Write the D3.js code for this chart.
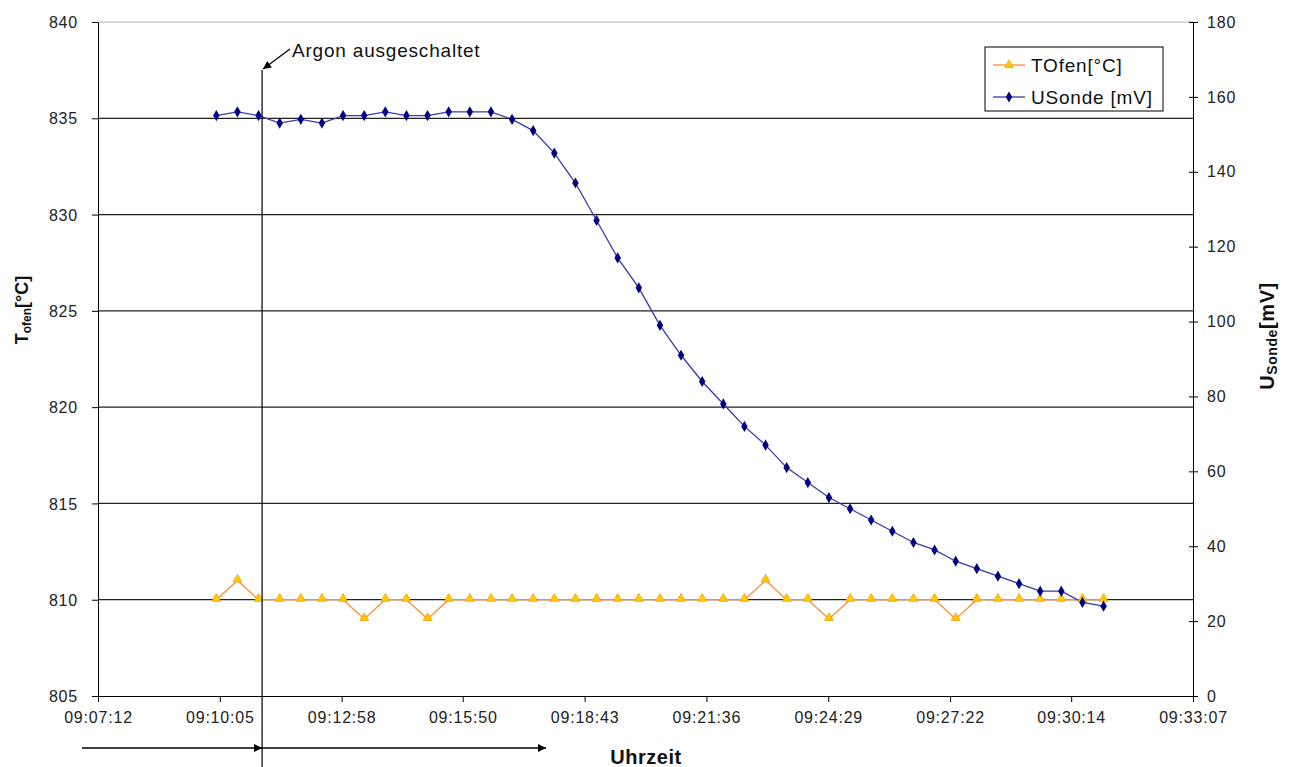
<!DOCTYPE html>
<html>
<head>
<meta charset="utf-8">
<script src="https://cdn.jsdelivr.net/npm/d3@7"></script>
<style>
  body { margin: 0; background: #fff; }
  svg { font-family: "Liberation Sans", Arial, sans-serif; }
</style>
</head>
<body>
<div id="chart"></div>
<script>
const width = 1289;
const height = 767;
const margin = {top: 22, right: 96, bottom: 71, left: 98};

// x-axis tick labels (Excel time axis)
const timeTicks = ['09:07:12', '09:10:05', '09:12:58', '09:15:50', '09:18:43',
  '09:21:36', '09:24:29', '09:27:22', '09:30:14', '09:33:07'];

// measurement times
const times = ['09:10:00', '09:10:30', '09:11:00', '09:11:30', '09:12:00', '09:12:30',
  '09:13:00', '09:13:30', '09:14:00', '09:14:30', '09:15:00', '09:15:30', '09:16:00',
  '09:16:30', '09:17:00', '09:17:30', '09:18:00', '09:18:30', '09:19:00', '09:19:30',
  '09:20:00', '09:20:30', '09:21:00', '09:21:30', '09:22:00', '09:22:30', '09:23:00',
  '09:23:30', '09:24:00', '09:24:30', '09:25:00', '09:25:30', '09:26:00', '09:26:30',
  '09:27:00', '09:27:30', '09:28:00', '09:28:30', '09:29:00', '09:29:30', '09:30:00',
  '09:30:30', '09:31:00'];

// TOfen [°C]
const tOfen = [810, 811, 810, 810, 810, 810, 810, 809, 810, 810, 809, 810, 810,
  810, 810, 810, 810, 810, 810, 810, 810, 810, 810, 810, 810, 810, 811,
  810, 810, 809, 810, 810, 810, 810, 810, 809, 810, 810, 810, 810, 810,
  810, 810];

// USonde [mV]
const uSonde = [155, 156, 155, 153, 154, 153, 155, 155, 156, 155, 155, 156, 156,
  156, 154, 151, 145, 137, 127, 117, 109, 99, 91, 84, 78, 72, 67,
  61, 57, 53, 50, 47, 44, 41, 39, 36, 34, 32, 30, 28, 28, 25, 24];

const leftTicks = [805, 810, 815, 820, 825, 830, 835, 840];
const rightTicks = [0, 20, 40, 60, 80, 100, 120, 140, 160, 180];
const argonTime = '09:11:05';

const toSec = s => {
  const p = s.split(':').map(Number);
  return p[0] * 3600 + p[1] * 60 + p[2];
};

const svg = d3.select('#chart').append('svg')
    .attr('width', width)
    .attr('height', height);

const defs = svg.append('defs');
defs.append('marker')
    .attr('id', 'arrow')
    .attr('viewBox', '0 0 10 10')
    .attr('refX', 10).attr('refY', 5)
    .attr('markerWidth', 10).attr('markerHeight', 8)
    .attr('markerUnits', 'userSpaceOnUse')
    .attr('orient', 'auto')
  .append('path')
    .attr('d', 'M0,0L10,5L0,10Z')
    .attr('fill', '#000');

const x0 = margin.left, x1 = width - margin.right;
const y0 = height - margin.bottom, y1 = margin.top;

const x = d3.scaleLinear()
    .domain([toSec(timeTicks[0]), toSec(timeTicks[timeTicks.length - 1])])
    .range([x0, x1]);
const yL = d3.scaleLinear().domain([805, 840]).range([y0, y1]);
const yR = d3.scaleLinear().domain([0, 180]).range([y0, y1]);

// top border
svg.append('line')
    .attr('x1', x0).attr('x2', x1).attr('y1', y1).attr('y2', y1)
    .attr('stroke', '#b0b0b0');

// gridlines
svg.append('g').selectAll('line')
  .data(leftTicks.filter(d => d > 805 && d < 840))
  .join('line')
    .attr('x1', x0).attr('x2', x1)
    .attr('y1', d => yL(d)).attr('y2', d => yL(d))
    .attr('stroke', '#222').attr('stroke-width', 1.2);

function styleAxis(g) {
  g.selectAll('.domain').attr('stroke', '#000');
  g.selectAll('.tick line').attr('stroke', '#000');
  g.selectAll('.tick text')
      .attr('fill', '#222')
      .style('font-size', '16px')
      .style('letter-spacing', '0.8px')
      .style('font-family', '"Liberation Sans", Arial, sans-serif');
}

const gL = svg.append('g')
    .attr('transform', `translate(${x0},0)`)
    .call(d3.axisLeft(yL).tickValues(leftTicks).tickSizeInner(6).tickSizeOuter(0).tickPadding(14));
styleAxis(gL);
gL.selectAll('.tick text').attr('dy', '0.35em');

const gR = svg.append('g')
    .attr('transform', `translate(${x1},0)`)
    .call(d3.axisRight(yR).tickValues(rightTicks).tickSizeInner(5).tickSizeOuter(0).tickPadding(9));
styleAxis(gR);
gR.selectAll('.tick line').attr('x1', -4);

const gX = svg.append('g')
    .attr('transform', `translate(0,${y0})`)
    .call(d3.axisBottom(x).tickValues(timeTicks.map(toSec))
      .tickFormat((d, i) => timeTicks[i]).tickSizeInner(6).tickSizeOuter(0).tickPadding(10));
styleAxis(gX);

// series
const ptsT = times.map((t, i) => [x(toSec(t)), yL(tOfen[i])]);
const ptsU = times.map((t, i) => [x(toSec(t)), yR(uSonde[i])]);

svg.append('path')
    .attr('d', d3.line()(ptsT))
    .attr('fill', 'none')
    .attr('stroke', '#ff8c3a')
    .attr('stroke-width', 1.3);
svg.append('path')
    .attr('d', d3.line()(ptsU))
    .attr('fill', 'none')
    .attr('stroke', '#3a3aa8')
    .attr('stroke-width', 1.3);

const tri = d3.symbol().type(d3.symbolTriangle).size(34);
const dia = d3.symbol().type(d3.symbolDiamond).size(36);

svg.append('g').selectAll('path')
  .data(ptsT)
  .join('path')
    .attr('d', tri)
    .attr('transform', d => `translate(${d[0]},${d[1] - 1})`)
    .attr('fill', '#ffcc00')
    .attr('stroke', '#ff9900')
    .attr('stroke-width', 0.8);
svg.append('g').selectAll('path')
  .data(ptsU)
  .join('path')
    .attr('d', dia)
    .attr('transform', d => `translate(${d[0]},${d[1]})`)
    .attr('fill', '#000080');

// Argon annotation
const ax = x(toSec(argonTime));
svg.append('line')
    .attr('x1', ax).attr('x2', ax).attr('y1', 70).attr('y2', height)
    .attr('stroke', '#000').attr('stroke-width', 1.2);
svg.append('line')
    .attr('x1', 290).attr('y1', 49).attr('x2', ax + 1).attr('y2', 69)
    .attr('stroke', '#000').attr('stroke-width', 1.2)
    .attr('marker-end', 'url(#arrow)');
svg.append('text')
    .attr('x', 292).attr('y', 57)
    .style('font-size', '19px')
    .style('letter-spacing', '0.8px')
    .attr('fill', '#111')
    .text('Argon ausgeschaltet');

// bottom arrows
svg.append('line')
    .attr('x1', 82).attr('x2', ax).attr('y1', 748).attr('y2', 748)
    .attr('stroke', '#000').attr('stroke-width', 1.5)
    .attr('marker-end', 'url(#arrow)');
svg.append('line')
    .attr('x1', ax).attr('x2', 546).attr('y1', 748).attr('y2', 748)
    .attr('stroke', '#000').attr('stroke-width', 1.5)
    .attr('marker-end', 'url(#arrow)');

// axis titles
svg.append('text')
    .attr('x', 646).attr('y', 764)
    .attr('text-anchor', 'middle')
    .style('font-size', '20px').style('font-weight', 'bold')
    .style('letter-spacing', '0.5px')
    .attr('fill', '#111')
    .text('Uhrzeit');

const tl = svg.append('text')
    .attr('transform', 'translate(28,310) rotate(-90)')
    .attr('text-anchor', 'middle')
    .style('font-size', '18px').style('font-weight', 'bold')
    .attr('fill', '#111');
tl.append('tspan').text('T');
tl.append('tspan').style('font-size', '12px').attr('dy', 3).text('ofen');
tl.append('tspan').attr('dy', -3).text('[°C]');

const tr = svg.append('text')
    .attr('transform', 'translate(1274,336) rotate(-90)')
    .attr('text-anchor', 'middle')
    .style('font-size', '20px').style('font-weight', 'bold')
    .style('letter-spacing', '0.6px')
    .attr('fill', '#111');
tr.append('tspan').text('U');
tr.append('tspan').style('font-size', '14px').attr('dy', 3).text('Sonde');
tr.append('tspan').attr('dy', -3).text('[mV]');

// legend
const legend = svg.append('g');
legend.append('rect')
    .attr('x', 985).attr('y', 47).attr('width', 178).attr('height', 64)
    .attr('fill', '#fff').attr('stroke', '#000');
const items = [
  {name: 'TOfen[°C]', color: '#ff8c3a', sym: tri, fill: '#ffcc00', stroke: '#ff9900', y: 65},
  {name: 'USonde [mV]', color: '#3a3aa8', sym: dia, fill: '#000080', stroke: 'none', y: 97}
];
const li = legend.selectAll('g.item').data(items).join('g').attr('class', 'item');
li.append('line')
    .attr('x1', 993).attr('x2', 1025)
    .attr('y1', d => d.y).attr('y2', d => d.y)
    .attr('stroke', d => d.color).attr('stroke-width', 1.3);
li.append('path')
    .attr('d', d => d.sym())
    .attr('transform', d => `translate(1009,${d.y})`)
    .attr('fill', d => d.fill).attr('stroke', d => d.stroke).attr('stroke-width', 0.8);
li.append('text')
    .attr('x', 1031).attr('y', d => d.y + 7)
    .style('font-size', '19px')
    .style('letter-spacing', '0.8px')
    .attr('fill', '#111')
    .text(d => d.name);
</script>
</body>
</html>
